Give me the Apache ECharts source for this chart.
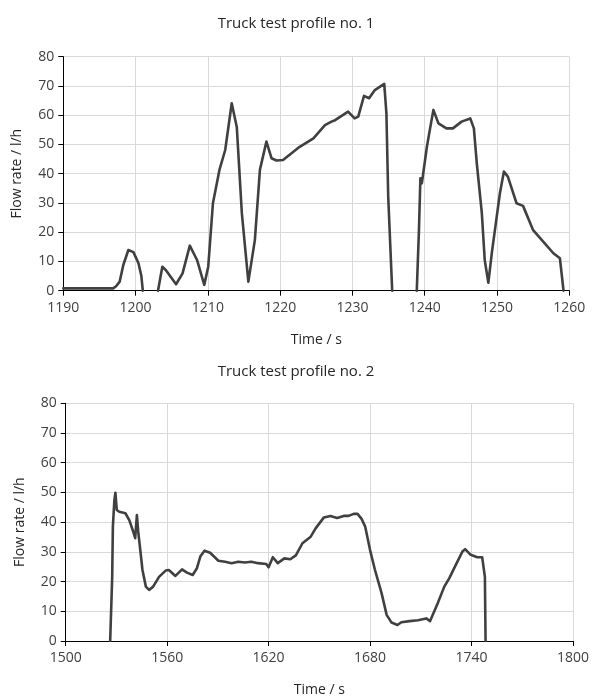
<!DOCTYPE html>
<html><head><meta charset="utf-8">
<script src="https://cdn.jsdelivr.net/npm/echarts@6/dist/echarts.min.js"></script>
<style>html,body{margin:0;padding:0;background:#fff}#c{width:592px;height:699px}</style>
</head><body><div id="c"></div>
<script>
// Profile 1
const time1 = [1190,1193,1196.9,1197.3,1197.8,1198.3,1199.0,1199.7,1200.4,1200.8,1201.0,1202,1203.1,1203.7,1204.2,1205.6,1206.5,1207.5,1208.5,1209.5,1210.05,1210.7,1211.6,1212.4,1213.3,1214.0,1214.7,1215.6,1216.5,1217.2,1218.1,1218.8,1219.5,1220.4,1222.7,1224.6,1226.2,1227.1,1227.6,1229.4,1230.3,1230.8,1231.6,1232.3,1233.1,1234.4,1234.7,1234.95,1235.5,1237,1238.9,1239.2,1239.4,1239.6,1240.3,1240.7,1241.2,1241.9,1243.0,1243.9,1245.1,1246.3,1246.8,1247.2,1247.9,1248.3,1248.8,1249.3,1249.9,1250.4,1250.95,1251.5,1252.7,1253.6,1255.0,1256.6,1257.8,1258.7,1259.2];
const flow1 = [0.8,0.8,0.8,1.5,3.1,8.8,13.9,13.2,9.4,5,0,null,0,8.2,7,2.2,5.9,15.4,10.5,2,8.2,29.9,41.3,48.1,64.1,56,26.5,3.1,17.3,41.3,51,45.3,44.5,44.7,49.2,52.1,56.6,57.8,58.3,61.2,58.9,59.5,66.6,65.8,68.6,70.7,60.6,32.1,0,null,0,20.7,38.4,36.7,49.2,54.9,61.8,57.2,55.5,55.5,57.8,58.9,55.5,43.6,26.5,10.5,2.7,13.3,24.2,33.3,40.7,39,29.9,29,20.7,16.2,12.8,11.1,0];
// Profile 2
const time2 = [1526.3,1527.5,1527.9,1528.8,1529.4,1530.2,1531.7,1535.3,1537.6,1539.6,1541.1,1542.1,1542.9,1543.9,1545.4,1547.4,1549.3,1551.7,1555.2,1559.1,1561.0,1564.9,1568.8,1571.7,1575.1,1577.6,1579.6,1582.1,1585.4,1590.3,1594.2,1598.1,1602,1605.9,1609.8,1613.7,1618.6,1620,1622.5,1625.4,1629.3,1632.8,1636.1,1640,1644.9,1647.8,1652.7,1656.6,1660.5,1664.4,1667.3,1670.3,1672.6,1675.1,1677.1,1680,1682.9,1686.8,1689.8,1692.7,1696.2,1698.5,1703.4,1708.3,1713.2,1715.5,1720,1723.9,1726.8,1730.7,1734.6,1736.2,1739.5,1743.4,1746.3,1747.3,1747.9,1748.3];
const flow2 = [0,21.6,38.5,47.5,49.9,44.1,43.5,43,40.7,37.4,34.6,42.4,36.7,31.7,23.9,18.3,17.2,18.3,21.6,23.7,23.9,21.9,24.1,23,22.2,24.5,28.4,30.4,29.7,27,26.7,26.2,26.7,26.4,26.7,26.2,25.9,24.8,28.2,26.2,27.8,27.5,28.8,32.9,35.1,37.9,41.6,42.1,41.4,42.1,42.1,42.8,42.8,41,38.5,30.6,23.9,16.1,8.8,6.2,5.4,6.3,6.7,7,7.6,6.7,12.7,18.3,21.1,25.6,30.1,30.9,29,28.2,28.2,28,21.6,0];

const titles = ['Truck test profile no. 1','Truck test profile no. 2'];
const xRange1 = [1190,1260,10];
const xRange2 = [1500,1800,60];
const yRange = [0,80,10];
const xName = 'Time / s';
const yName = 'Flow rate / l/h';

const FONT = '"Open Sans", "Noto Sans", sans-serif';
const txt = '#404040';
function xAxis(idx, r){
  return {type:'value', gridIndex:idx, min:r[0], max:r[1], interval:r[2],
    name:xName, nameLocation:'middle', nameGap:42,
    nameTextStyle:{color:'#262626', fontSize:14, fontFamily:FONT},
    axisLine:{show:true, onZero:false, lineStyle:{color:'#000', width:1}},
    axisTick:{show:true, inside:false, length:5, lineStyle:{color:'#000'}},
    axisLabel:{color:txt, fontSize:14, fontFamily:FONT, margin:10, formatter:v=>String(v)},
    splitLine:{show:true, lineStyle:{color:'#d9d9d9', width:1}}};
}
function yAxis(idx){
  return {type:'value', gridIndex:idx, min:yRange[0], max:yRange[1], interval:yRange[2],
    name:yName, nameLocation:'middle', nameGap:39, nameRotate:90,
    nameTextStyle:{color:'#262626', fontSize:14, fontFamily:FONT},
    axisLine:{show:true, lineStyle:{color:'#000', width:1}},
    axisTick:{show:true, inside:false, length:5, lineStyle:{color:'#000'}},
    axisLabel:{color:txt, fontSize:14, fontFamily:FONT, margin:9, formatter:v=>String(v)},
    splitLine:{show:true, lineStyle:{color:'#d9d9d9', width:1}}};
}
const chart = echarts.init(document.getElementById('c'), null, {renderer:'canvas'});
chart.setOption({
  animation:false,
  backgroundColor:'#fff',
  title:[
    {text:titles[0], left:'center', top:11, textStyle:{color:'#262626', fontSize:15, fontWeight:'normal', fontFamily:FONT}},
    {text:titles[1], left:'center', top:359, textStyle:{color:'#262626', fontSize:15, fontWeight:'normal', fontFamily:FONT}}
  ],
  grid:[
    {left:63.3, top:56.7, width:506, height:234},
    {left:65.7, top:403.3, width:512.6, height:237.7}
  ],
  xAxis:[xAxis(0,xRange1), xAxis(1,xRange2)],
  yAxis:[yAxis(0), yAxis(1)],
  series:[
    {type:'line', xAxisIndex:0, yAxisIndex:0, showSymbol:false, connectNulls:false,
     data: time1.map((t,i)=>[t, flow1[i]]), lineStyle:{color:'#404040', width:2.6, join:'round', cap:'round'}, z:5},
    {type:'line', xAxisIndex:1, yAxisIndex:1, showSymbol:false, connectNulls:false,
     data: time2.map((t,i)=>[t, flow2[i]]), lineStyle:{color:'#404040', width:2.6, join:'round', cap:'round'}, z:5}
  ]
});
</script></body></html>
